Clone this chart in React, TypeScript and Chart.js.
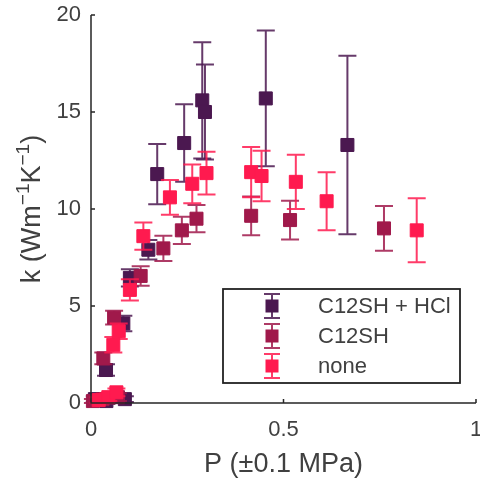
import React, { useEffect, useRef } from "react";
import { Chart, registerables } from "chart.js";
Chart.register(...registerables);

// ---- data ----
const seriesNames = ["C12SH + HCl", "C12SH", "none"];
const seriesColors = ["#4B1850", "#A0194B", "#FF1A4F"];

const hclP = [0.01, 0.04, 0.088, 0.039, 0.084, 0.101, 0.149, 0.172, 0.242, 0.289, 0.296, 0.454, 0.666];
const hclK = [0.2, 0.1, 0.2, 1.7, 4.1, 6.45, 7.9, 11.8, 13.4, 15.6, 15.0, 15.7, 13.3];
const hclErr = [0.15, 0.15, 0.15, 0.3, 0.4, 0.45, 0.5, 1.55, 2.0, 3.0, 2.45, 3.5, 4.6];

const c12P = [0.005, 0.03, 0.07, 0.032, 0.06, 0.129, 0.188, 0.236, 0.274, 0.416, 0.517, 0.761];
const c12K = [0.1, 0.2, 0.3, 2.3, 4.4, 6.55, 7.97, 8.9, 9.5, 9.65, 9.43, 9.0];
const c12Err = [0.1, 0.15, 0.2, 0.3, 0.35, 0.5, 0.65, 0.7, 0.7, 1.0, 1.0, 1.15];

const noneP = [0.02, 0.045, 0.066, 0.058, 0.072, 0.101, 0.136, 0.205, 0.263, 0.3, 0.416, 0.443, 0.532, 0.612, 0.846];
const noneK = [0.15, 0.3, 0.55, 3.0, 3.7, 5.83, 8.6, 10.6, 11.3, 11.85, 11.9, 11.7, 11.4, 10.4, 8.9];
const noneErr = [0.15, 0.2, 0.2, 0.4, 0.4, 0.55, 0.7, 0.9, 1.0, 1.1, 1.3, 1.3, 1.4, 1.5, 1.65];

const xTicks = [0, 0.5, 1];
const yTicks = [0, 5, 10, 15, 20];
const xTitle = "P (\u00B10.1 MPa)";
// y title pieces: [text, isSuperscript]
const yTitleParts: [string, boolean][] = [["k (Wm", false], ["\u22121", true], ["K", false], ["\u22121", true], [")", false]];

const FONT = "'Liberation Sans', Arial, Helvetica, sans-serif";
const TEXT = "#404040";
const AXIS = "#262626";

const makeDs = (i: number, P: number[], K: number[], E: number[], order: number) => ({
  label: seriesNames[i],
  data: P.map((p, j) => ({ x: p, y: K[j] })),
  errors: E,
  showLine: false,
  pointStyle: "rect",
  pointRadius: 9.2,
  pointHoverRadius: 9.2,
  pointBorderWidth: 1,
  backgroundColor: seriesColors[i],
  borderColor: seriesColors[i],
  clip: false,
  order,
});

const errorBars = {
  id: "errorBars",
  beforeDatasetDraw(chart: any, args: any) {
    const ds = chart.data.datasets[args.index];
    const xs = chart.scales.x;
    const ys = chart.scales.y;
    const ctx = chart.ctx;
    ctx.save();
    ctx.strokeStyle = ds.borderColor;
    ctx.globalAlpha = 0.85;
    ctx.lineWidth = 2;
    ds.data.forEach((pt: any, j: number) => {
      const e = ds.errors[j];
      const px = xs.getPixelForValue(pt.x);
      const top = ys.getPixelForValue(pt.y + e);
      const bot = ys.getPixelForValue(pt.y - e);
      const cw = 9;
      ctx.beginPath();
      ctx.moveTo(px, top);
      ctx.lineTo(px, bot);
      ctx.moveTo(px - cw, top);
      ctx.lineTo(px + cw, top);
      ctx.moveTo(px - cw, bot);
      ctx.lineTo(px + cw, bot);
      ctx.stroke();
    });
    ctx.restore();
  },
};

const axesAndLegend = {
  id: "axesAndLegend",
  afterDraw(chart: any) {
    const ctx = chart.ctx;
    const xs = chart.scales.x;
    const ys = chart.scales.y;
    const a = chart.chartArea;
    ctx.save();
    ctx.strokeStyle = AXIS;
    ctx.lineWidth = 1.5;
    ctx.beginPath();
    ctx.moveTo(a.left, ys.getPixelForValue(yTicks[yTicks.length - 1]));
    ctx.lineTo(a.left, a.bottom);
    ctx.lineTo(xs.getPixelForValue(xTicks[xTicks.length - 1]), a.bottom);
    xTicks.forEach((t) => {
      const p = xs.getPixelForValue(t);
      ctx.moveTo(p, a.bottom);
      ctx.lineTo(p, a.bottom - 4);
    });
    yTicks.forEach((t) => {
      const p = ys.getPixelForValue(t);
      ctx.moveTo(a.left, p);
      ctx.lineTo(a.left + 4, p);
    });
    ctx.stroke();

    // y axis title with real superscripts
    const mainF = `27px ${FONT}`;
    const supF = `19px ${FONT}`;
    let total = 0;
    yTitleParts.forEach(([t, sup]) => {
      ctx.font = sup ? supF : mainF;
      total += ctx.measureText(t).width;
    });
    ctx.save();
    ctx.translate(33, (a.top + a.bottom) / 2);
    ctx.rotate(-Math.PI / 2);
    ctx.fillStyle = TEXT;
    ctx.textAlign = "left";
    ctx.textBaseline = "middle";
    let xx = -total / 2;
    yTitleParts.forEach(([t, sup]) => {
      ctx.font = sup ? supF : mainF;
      ctx.fillText(t, xx, sup ? -9 : 0);
      xx += ctx.measureText(t).width;
    });
    ctx.restore();

    // legend
    const bx = a.right - 253, by = a.bottom - 114, bw = 237, bh = 94;
    ctx.lineWidth = 1.8;
    ctx.strokeStyle = "#222";
    ctx.strokeRect(bx, by, bw, bh);
    ctx.font = `22px ${FONT}`;
    ctx.textBaseline = "middle";
    ctx.textAlign = "left";
    seriesNames.forEach((name, i) => {
      const cy = by + 17 + i * 30;
      const cx = bx + 49;
      ctx.strokeStyle = seriesColors[i];
      ctx.lineWidth = 2;
      ctx.globalAlpha = 0.85;
      ctx.beginPath();
      ctx.moveTo(cx, cy - 12); ctx.lineTo(cx, cy + 12);
      ctx.moveTo(cx - 8, cy - 12); ctx.lineTo(cx + 8, cy - 12);
      ctx.moveTo(cx - 8, cy + 12); ctx.lineTo(cx + 8, cy + 12);
      ctx.stroke();
      ctx.globalAlpha = 1;
      ctx.fillStyle = seriesColors[i];
      ctx.fillRect(cx - 6.5, cy - 6.5, 13, 13);
      ctx.fillStyle = TEXT;
      ctx.fillText(name, bx + 95, cy + 1);
    });
    ctx.restore();
  },
};

const hiddenTickGrid = (len: number) => ({
  display: true,
  drawOnChartArea: false,
  drawTicks: true,
  tickLength: len,
  color: "rgba(0,0,0,0)",
});

export default function App() {
  const ref = useRef<HTMLCanvasElement>(null);
  useEffect(() => {
    if (!ref.current) return;
    const chart = new Chart(ref.current, {
      type: "scatter",
      data: {
        datasets: [
          makeDs(0, hclP, hclK, hclErr, 3),
          makeDs(1, c12P, c12K, c12Err, 2),
          makeDs(2, noneP, noneK, noneErr, 1),
        ] as any,
      },
      options: {
        animation: false,
        responsive: false,
        events: [],
        layout: { autoPadding: false, padding: { left: 0, top: 15, right: 4, bottom: 0 } },
        plugins: { legend: { display: false }, tooltip: { enabled: false } },
        scales: {
          x: {
            type: "linear",
            min: 0,
            max: 1,
            afterFit: (s: any) => { s.height = 76; s.paddingRight = 4; s.paddingLeft = 0; },
            afterBuildTicks: (s: any) => { s.ticks = xTicks.map((v) => ({ value: v })); },
            grid: hiddenTickGrid(14) as any,
            border: { display: false },
            ticks: {
              padding: 0,
              color: TEXT,
              font: { size: 22, family: FONT },
              maxRotation: 0,
              callback: (v: any) => String(v),
            },
            title: {
              display: true,
              text: xTitle,
              color: TEXT,
              font: { size: 27, family: FONT, lineHeight: 1 },
              padding: { top: 0, bottom: 1 },
            },
          },
          y: {
            type: "linear",
            min: 0,
            max: 20,
            afterFit: (s: any) => { s.width = 91; s.paddingTop = 0; s.paddingBottom = 0; },
            afterBuildTicks: (s: any) => { s.ticks = yTicks.map((v) => ({ value: v })); },
            grid: hiddenTickGrid(10) as any,
            border: { display: false },
            ticks: {
              padding: 0,
              color: TEXT,
              font: { size: 22, family: FONT },
              callback: (v: any) => String(v),
            },
            title: { display: false },
          },
        },
      },
      plugins: [errorBars, axesAndLegend],
    });
    return () => chart.destroy();
  }, []);
  return (
    <div style={{ position: "fixed", left: 0, top: 0, width: 480, height: 479, background: "#fff" }}>
      <canvas ref={ref} width={480} height={479} style={{ display: "block" }} />
    </div>
  );
}
